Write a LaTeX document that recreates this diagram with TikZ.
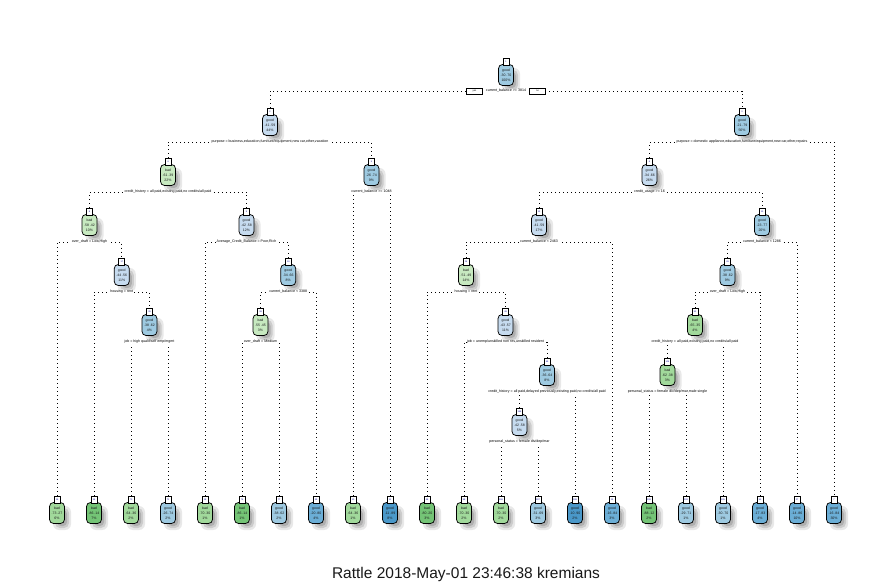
\documentclass[tikz,border=0pt]{standalone}
\usepackage{fontspec}
\setmainfont{Liberation Sans}
\usetikzlibrary{calc}

% node fills: greens for "bad", blues for "good"
\definecolor{gA}{HTML}{C7E9C0}
\definecolor{gB}{HTML}{A1D99B}
\definecolor{gC}{HTML}{74C476}
\definecolor{bA}{HTML}{C6DBEF}
\definecolor{bB}{HTML}{9ECAE1}
\definecolor{bC}{HTML}{6BAED6}
\definecolor{bD}{HTML}{4A98C9}
\definecolor{shadowgray}{HTML}{8C8C8C}

\tikzset{
  nodebody/.style={draw=black, line width=0.75pt, rounded corners=4pt,
    minimum width=15pt, minimum height=21pt, inner sep=0pt, align=center,
    font=\fontsize{3.5}{4.8}\selectfont, text=black!90},
  nodetag/.style={draw=black, fill=white, line width=0.65pt,
    minimum width=6pt, minimum height=7pt, inner sep=0pt,
    font=\fontsize{2.2}{2.5}\selectfont, text=blue!60!black},
  dl/.style={line width=0.8pt, dash pattern=on 0.8pt off 3.2pt, black},
  splitlabel/.style={fill=white, inner sep=0.6pt, text=black,
    font=\fontsize{3.6}{4}\selectfont},
  ynbox/.style={draw=black, fill=white, line width=0.6pt, minimum width=16pt,
    minimum height=6pt, inner sep=0pt, font=\fontsize{2.4}{2.6}\selectfont},
}

% tree node: name, x, y, fill, class, probabilities, share, node number
\newcommand\treenode[8]{%
  \fill[shadowgray,opacity=.20,rounded corners=6pt] ({#2-4},{#3-7}) rectangle ({#2+14},{#3+17});
  \fill[shadowgray,opacity=.30,rounded corners=5pt] ({#2-2},{#3-5}) rectangle ({#2+12},{#3+15});
  \fill[shadowgray,opacity=.45,rounded corners=4pt] ({#2},{#3-3}) rectangle ({#2+10},{#3+13});
  \node[nodebody,fill=#4] (#1) at (#2,#3) {#5\\#6\\#7};
  \node[nodetag] (#1-t) at ({#2},{#3-13.5}) {#8};
}

\begin{document}
\begin{tikzpicture}[x=1pt,y=-1pt]
\useasboundingbox (0,0) rectangle (892,585);
\fill[white] (0,0) rectangle (892,585);

% ---- inner nodes ----
\treenode{n1}{506}{75}{bB}{good}{.30 .70}{100\%}{1}
\treenode{n2}{270}{125}{bA}{good}{.41 .59}{44\%}{2}
\treenode{n3}{742}{125}{bB}{good}{.21 .79}{56\%}{3}
\treenode{n4}{168}{175}{gA}{bad}{.61 .39}{22\%}{4}
\treenode{n5}{371.5}{175}{bB}{good}{.26 .74}{9\%}{5}
\treenode{n8}{89.5}{225}{gA}{bad}{.58 .42}{10\%}{8}
\treenode{n9}{246.5}{225}{bA}{good}{.42 .58}{12\%}{9}
\treenode{n17}{121.75}{275}{bA}{good}{.44 .56}{11\%}{17}
\treenode{n35}{149.5}{325}{bB}{good}{.38 .62}{4\%}{35}
\treenode{n19}{288.25}{275}{bB}{good}{.34 .66}{8\%}{19}
\treenode{n38}{260.5}{325}{gA}{bad}{.55 .45}{3\%}{38}
\treenode{n6}{649.5}{175}{bA}{good}{.34 .66}{26\%}{6}
\treenode{n12}{539}{225}{bA}{good}{.41 .59}{17\%}{12}
\treenode{n13}{762}{225}{bB}{good}{.23 .77}{20\%}{13}
\treenode{n24}{466}{275}{gA}{bad}{.51 .49}{14\%}{24}
\treenode{n49}{505.5}{325}{bA}{good}{.43 .57}{11\%}{49}
\treenode{n99}{547}{375}{bB}{good}{.36 .64}{8\%}{99}
\treenode{n198}{519.5}{425}{bA}{good}{.42 .58}{5\%}{198}
\treenode{n26}{727.5}{275}{bB}{good}{.38 .62}{9\%}{26}
\treenode{n52}{695}{325}{gB}{bad}{.65 .35}{4\%}{52}
\treenode{n104}{667.5}{375}{gB}{bad}{.62 .38}{3\%}{104}

% ---- leaves ----
\treenode{n16}{57}{513}{gB}{bad}{.73 .27}{6\%}{16}
\treenode{n34}{94}{513}{gC}{bad}{.86 .14}{7\%}{34}
\treenode{n70}{131}{513}{gB}{bad}{.64 .36}{2\%}{70}
\treenode{n71}{168}{513}{bB}{good}{.26 .74}{2\%}{71}
\treenode{n18}{205}{513}{gB}{bad}{.70 .30}{1\%}{18}
\treenode{n76}{242}{513}{gC}{bad}{.86 .14}{1\%}{76}
\treenode{n77}{279}{513}{bB}{good}{.38 .62}{2\%}{77}
\treenode{n39}{316}{513}{bC}{good}{.20 .80}{4\%}{39}
\treenode{n10}{353}{513}{gB}{bad}{.64 .36}{1\%}{10}
\treenode{n11}{390}{513}{bD}{good}{.11 .89}{8\%}{11}
\treenode{n48}{427}{513}{gC}{bad}{.80 .20}{3\%}{48}
\treenode{n98}{464}{513}{gB}{bad}{.70 .30}{2\%}{98}
\treenode{n396}{501}{513}{gB}{bad}{.70 .30}{2\%}{396}
\treenode{n397}{538}{513}{bB}{good}{.31 .69}{3\%}{397}
\treenode{n199}{575}{513}{bD}{good}{.10 .90}{2\%}{199}
\treenode{n25}{612}{513}{bC}{good}{.16 .84}{3\%}{25}
\treenode{n208}{649}{513}{gC}{bad}{.88 .12}{2\%}{208}
\treenode{n209}{686}{513}{bB}{good}{.29 .71}{1\%}{209}
\treenode{n105}{723}{513}{bB}{good}{.30 .70}{1\%}{105}
\treenode{n53}{760}{513}{bC}{good}{.17 .83}{4\%}{53}
\treenode{n27}{797}{513}{bC}{good}{.14 .86}{10\%}{27}
\treenode{n7}{834}{513}{bC}{good}{.16 .84}{30\%}{7}

% ---- split points under each inner node ----
\coordinate (s1) at (506,91);
\coordinate (s2) at (270,142);
\coordinate (s3) at (742,142);
\coordinate (s4) at (168,192);
\coordinate (s5) at (371.5,192);
\coordinate (s8) at (89.5,242);
\coordinate (s9) at (246.5,242);
\coordinate (s17) at (121.75,292);
\coordinate (s35) at (149.5,342);
\coordinate (s19) at (288.25,292);
\coordinate (s38) at (260.5,342);
\coordinate (s6) at (649.5,192);
\coordinate (s12) at (539,242);
\coordinate (s13) at (762,242);
\coordinate (s24) at (466,292);
\coordinate (s49) at (505.5,342);
\coordinate (s99) at (547,392);
\coordinate (s198) at (519.5,442);
\coordinate (s26) at (727.5,292);
\coordinate (s52) at (695,342);
\coordinate (s104) at (667.5,392);

% ---- connectors ----
\draw[dl] (n2-t.north) |- (s1) -| (n3-t.north);
\draw[dl] (n4-t.north) |- (s2) -| (n5-t.north);
\draw[dl] (n6-t.north) |- (s3) -| (n7-t.north);
\draw[dl] (n8-t.north) |- (s4) -| (n9-t.north);
\draw[dl] (n10-t.north) |- (s5) -| (n11-t.north);
\draw[dl] (n16-t.north) |- (s8) -| (n17-t.north);
\draw[dl] (n18-t.north) |- (s9) -| (n19-t.north);
\draw[dl] (n34-t.north) |- (s17) -| (n35-t.north);
\draw[dl] (n70-t.north) |- (s35) -| (n71-t.north);
\draw[dl] (n38-t.north) |- (s19) -| (n39-t.north);
\draw[dl] (n76-t.north) |- (s38) -| (n77-t.north);
\draw[dl] (n12-t.north) |- (s6) -| (n13-t.north);
\draw[dl] (n24-t.north) |- (s12) -| (n25-t.north);
\draw[dl] (n26-t.north) |- (s13) -| (n27-t.north);
\draw[dl] (n48-t.north) |- (s24) -| (n49-t.north);
\draw[dl] (n98-t.north) |- (s49) -| (n99-t.north);
\draw[dl] (n198-t.north) |- (s99) -| (n199-t.north);
\draw[dl] (n396-t.north) |- (s198) -| (n397-t.north);
\draw[dl] (n52-t.north) |- (s26) -| (n53-t.north);
\draw[dl] (n104-t.north) |- (s52) -| (n105-t.north);
\draw[dl] (n208-t.north) |- (s104) -| (n209-t.north);

% ---- split rules ----
\node[splitlabel] (l1) at (s1) {current\_balance >= 3814};
\node[ynbox] (yes) at (474.5,91) {yes};
\node[ynbox] (no) at (537.5,91) {no};
\node[splitlabel] (l2) at (s2) {purpose = business,education,furniture/equipment,new car,other,vacation};
\node[splitlabel] (l3) at (s3) {purpose = domestic appliance,education,furniture/equipment,new car,other,repairs};
\node[splitlabel] (l4) at (s4) {credit\_history = all paid,existing paid,no credits/all paid};
\node[splitlabel] (l5) at (s5) {current\_balance >= 1048};
\node[splitlabel] (l8) at (s8) {over\_draft = Low,High};
\node[splitlabel] (l9) at (s9) {Average\_Credit\_Balance = Poor,Rich};
\node[splitlabel] (l17) at (s17) {housing = rent};
\node[splitlabel] (l35) at (s35) {job = high qualif/self emp/mgmt};
\node[splitlabel] (l19) at (s19) {current\_balance < 3388};
\node[splitlabel] (l38) at (s38) {over\_draft = Medium};
\node[splitlabel] (l6) at (s6) {credit\_usage >= 16};
\node[splitlabel] (l12) at (s12) {current\_balance < 2463};
\node[splitlabel] (l13) at (s13) {current\_balance < 1286};
\node[splitlabel] (l24) at (s24) {housing = rent};
\node[splitlabel] (l49) at (s49) {job = unemp/unskilled non res,unskilled resident};
\node[splitlabel] (l99) at (s99) {credit\_history = all paid,delayed previously,existing paid,no credits/all paid};
\node[splitlabel] (l198) at (s198) {personal\_status = female div/dep/mar};
\node[splitlabel] (l26) at (s26) {over\_draft = Low,High};
\node[splitlabel] (l52) at (s52) {credit\_history = all paid,existing paid,no credits/all paid};
\node[splitlabel] (l104) at (s104) {personal\_status = female div/dep/mar,male single};

% ---- caption ----
\node[font=\fontsize{15.5}{17}\selectfont, text=black!90] (cap) at (466,574) {Rattle 2018-May-01 23:46:38 kremians};
\end{tikzpicture}
\end{document}
